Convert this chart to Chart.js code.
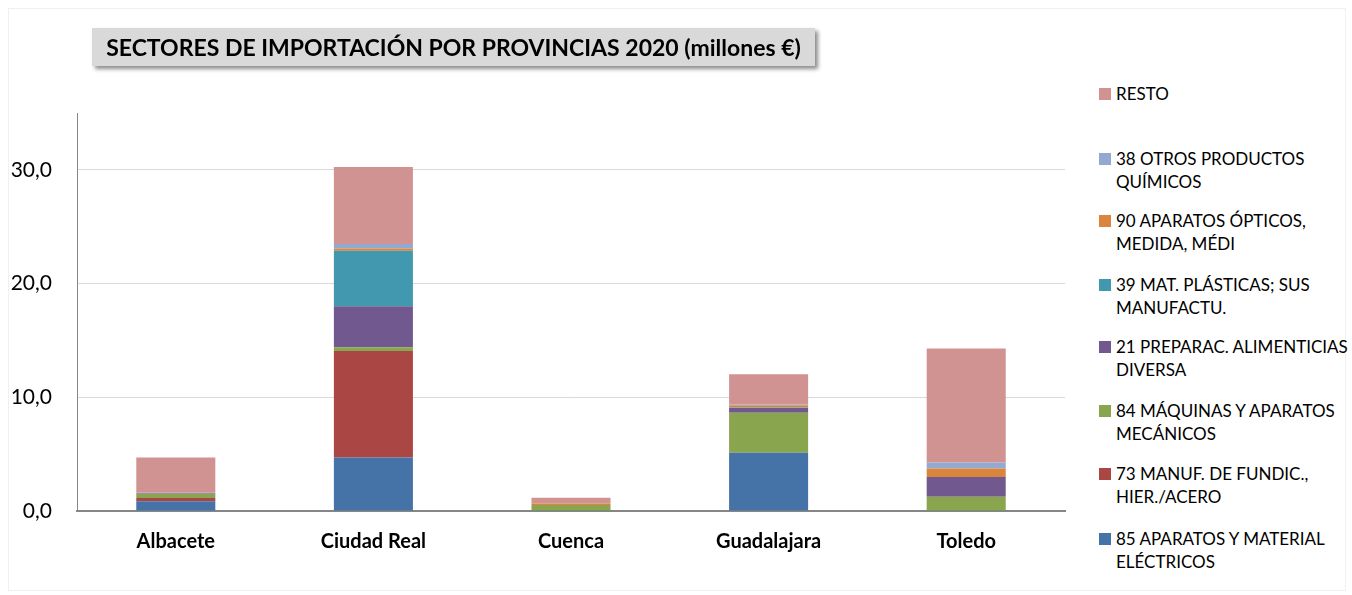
<!DOCTYPE html>
<html>
<head>
<meta charset="utf-8">
<script src="https://cdn.jsdelivr.net/npm/chart.js@4.4.1/dist/chart.umd.min.js"></script>
<style>
  body { margin: 0; background: #fff; font-family: Lato, "Open Sans", sans-serif; }
  .wrap { position: relative; width: 1352px; height: 595px; overflow: hidden; }
  .frame { position: absolute; left: 8px; top: 8px; width: 1336px; height: 581px; border: 1px solid #f0f0f0; }
  .title {
    position: absolute; left: 92px; top: 28px; width: 723px; height: 38px;
    background: #d9d9d9; box-shadow: 3px 3px 4px #8c8c8c;
    font-weight: bold; font-size: 23px; line-height: 38px; text-align: center; color: #000;
    white-space: nowrap;
  }
  #chartBox { position: absolute; left: 0; top: 0; width: 1085px; height: 595px; }
  #legend { position: absolute; left: 1098px; top: 82px; width: 254px; }
  .item { position: absolute; left: 0; font-size: 17px; line-height: 23px; color: #000; white-space: nowrap; }
  .item span.sw { position: absolute; left: 1px; top: 6px; width: 12px; height: 12px; }
  .item div { margin-left: 18px; }
</style>
</head>
<body>
<div class="wrap">
  <div class="frame"></div>
  <div id="chartBox"><canvas id="myChart"></canvas></div>
  <div class="title">SECTORES DE IMPORTACIÓN POR PROVINCIAS 2020 (millones €)</div>
  <div id="legend"></div>
</div>
<script>
const provincias = ['Albacete', 'Ciudad Real', 'Cuenca', 'Guadalajara', 'Toledo'];

const sectores = [
  '85 APARATOS Y MATERIAL ELÉCTRICOS',
  '73 MANUF. DE FUNDIC., HIER./ACERO',
  '84 MÁQUINAS Y APARATOS MECÁNICOS',
  '21 PREPARAC. ALIMENTICIAS DIVERSA',
  '39 MAT. PLÁSTICAS; SUS MANUFACTU.',
  '90 APARATOS ÓPTICOS, MEDIDA, MÉDI',
  '38 OTROS PRODUCTOS QUÍMICOS',
  'RESTO'
];
// legend lines as they wrap in the picture
const legendLines = [
  ['85 APARATOS Y MATERIAL', 'ELÉCTRICOS'],
  ['73 MANUF. DE FUNDIC.,', 'HIER./ACERO'],
  ['84 MÁQUINAS Y APARATOS', 'MECÁNICOS'],
  ['21 PREPARAC. ALIMENTICIAS', 'DIVERSA'],
  ['39 MAT. PLÁSTICAS; SUS', 'MANUFACTU.'],
  ['90 APARATOS ÓPTICOS,', 'MEDIDA, MÉDI'],
  ['38 OTROS PRODUCTOS', 'QUÍMICOS'],
  ['RESTO']
];

// millones de euros, por provincia
const aparatosElectricos = [0.85, 4.71, 0.03, 5.12, 0.02];
const manufFundicion     = [0.29, 9.35, 0.0, 0.0, 0.0];
const maquinas           = [0.35, 0.35, 0.5, 3.53, 1.24];
const preparacAliment    = [0.05, 3.6, 0.0, 0.41, 1.72];
const matPlasticas       = [0.02, 4.88, 0.0, 0.05, 0.02];
const aparatosOpticos    = [0.03, 0.2, 0.14, 0.2, 0.73];
const otrosQuimicos      = [0.02, 0.4, 0.0, 0.05, 0.53];
const resto              = [3.1, 6.76, 0.5, 2.66, 10.03];

const yTicks = [0, 10, 20, 30];

const colores = ['#4572a7', '#aa4643', '#89a54e', '#71588f', '#4198af', '#db843d', '#93a9cf', '#d19392'];
const series = [aparatosElectricos, manufFundicion, maquinas, preparacAliment, matPlasticas, aparatosOpticos, otrosQuimicos, resto];

const ctx = document.getElementById('myChart');
const chart = new Chart(ctx, {
  type: 'bar',
  data: {
    labels: provincias,
    datasets: series.map((d, i) => ({
      label: sectores[i],
      data: d,
      backgroundColor: colores[i],
      borderWidth: 0,
      barPercentage: 0.8,
      categoryPercentage: 0.5
    }))
  },
  options: {
    responsive: true,
    maintainAspectRatio: false,
    animation: false,
    layout: { padding: { top: 113, right: 20, left: 0, bottom: 0 } },
    plugins: {
      legend: { display: false },
      title: { display: false },
      tooltip: { enabled: false }
    },
    scales: {
      x: {
        stacked: true,
        grid: { display: false, drawTicks: false },
        border: { color: '#868686', width: 2 },
        ticks: {
          padding: 19,
          color: '#000',
          font: { family: 'Lato, "Open Sans", sans-serif', size: 20, weight: 'bold' }
        },
        afterFit: s => { s.height = 84; }
      },
      y: {
        stacked: true,
        min: 0,
        max: 35,
        afterBuildTicks: s => { s.ticks = yTicks.map(v => ({ value: v })); },
        grid: { color: '#d9d9d9', drawTicks: false },
        border: { color: '#868686', width: 1 },
        ticks: {
          padding: 25,
          color: '#000',
          font: { family: 'Lato, "Open Sans", sans-serif', size: 21 },
          callback: v => v.toFixed(1).replace('.', ',')
        },
        afterFit: s => { s.width = 77; }
      }
    }
  }
});

// legend to the right, reversed like the original
const legendTops = [0, 65, 127, 191, 253, 317, 380, 445];
const legend = document.getElementById('legend');
chart.data.datasets.slice().reverse().forEach((ds, k) => {
  const idx = chart.data.datasets.length - 1 - k;
  const item = document.createElement('div');
  item.className = 'item';
  item.style.top = legendTops[k] + 'px';
  item.innerHTML = '<span class="sw" style="background:' + ds.backgroundColor + '"></span><div>' +
    legendLines[idx].join('<br>') + '</div>';
  legend.appendChild(item);
});
</script>
</body>
</html>
